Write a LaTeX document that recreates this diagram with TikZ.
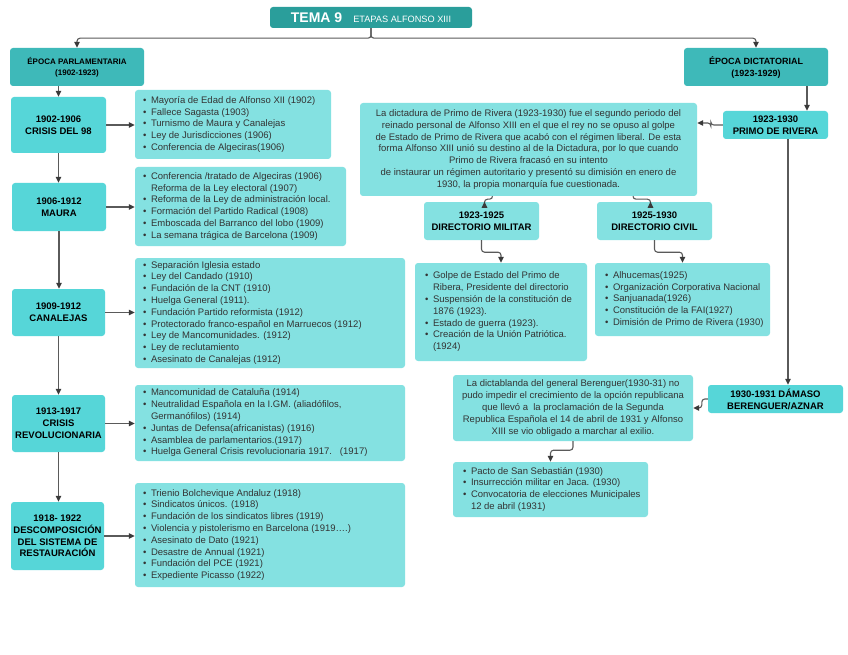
\documentclass[tikz,border=0pt]{standalone}
\usepackage{fontspec}
\setmainfont{Liberation Sans}
\usetikzlibrary{arrows.meta}
\definecolor{ctitle}{HTML}{2A9E9B}
\definecolor{cepoca}{HTML}{3EB9B9}
\definecolor{cper}{HTML}{56D6D8}
\definecolor{clist}{HTML}{84E1E1}
\definecolor{ctext}{HTML}{333333}
\definecolor{cline}{HTML}{5A5A5A}
\definecolor{ctip}{HTML}{3A3A3A}
\newcommand\bul{\makebox[8pt][l]{\textbullet}}
\newcommand\cnt{\hspace*{8pt}}
\newcommand\lst[2]{\makebox[#1][l]{\begin{tabular}{@{}l@{}}#2\end{tabular}}}
\tikzset{
  base/.style={rounded corners=3pt, inner sep=0pt, align=center},
  titlebox/.style={base, fill=ctitle, text=white},
  epbox/.style={base, fill=cepoca, text=black},
  prbox/.style={base, fill=cper, text=black, font=\bfseries\fontsize{9.5}{11.8}\selectfont},
  listbox/.style={base, fill=clist, text=ctext, font=\fontsize{9.5}{11.8}\selectfont},
  arr/.style={draw=cline, line width=1.1pt, rounded corners=3pt, -{Triangle[length=6pt,width=5.5pt,color=ctip]}},
}
\begin{document}
\begin{tikzpicture}[x=1pt,y=-1pt]
\useasboundingbox[fill=white] (0,0) rectangle (848,655);

% title
\node[titlebox, minimum width=202pt, minimum height=21pt] (title) at (371,17.5)
  {{\bfseries\fontsize{14}{16}\selectfont TEMA 9}\hspace{11pt}{\fontsize{9.2}{10}\selectfont ETAPAS ALFONSO XIII}};

% epochs
\node[epbox, minimum width=134pt, minimum height=38pt, font=\bfseries\fontsize{8}{11}\selectfont] (ep) at (77,67)
  {ÉPOCA PARLAMENTARIA\\(1902-1923)};
\node[epbox, minimum width=144pt, minimum height=38pt, font=\bfseries\fontsize{9}{12}\selectfont] (ed) at (756,67)
  {ÉPOCA DICTATORIAL\\(1923-1929)};

% left periods
\node[prbox, minimum width=95pt, minimum height=56pt] (pr1) at (58.5,125) {1902-1906\\CRISIS DEL 98};
\node[prbox, minimum width=94pt, minimum height=48pt] (pr2) at (59,207) {1906-1912\\MAURA};
\node[prbox, minimum width=93pt, minimum height=47pt] (pr3) at (58.5,312.5) {1909-1912\\CANALEJAS};
\node[prbox, minimum width=93pt, minimum height=57pt] (pr4) at (58.5,423.5) {1913-1917\\CRISIS\\REVOLUCIONARIA};
\node[prbox, minimum width=93pt, minimum height=68pt] (pr5) at (57.5,536) {1918- 1922\\DESCOMPOSICIÓN\\DEL SISTEMA DE\\RESTAURACIÓN};

% left lists
\node[listbox, minimum width=196pt, minimum height=69pt] (c1) at (233,124.5) {\lst{180pt}{%
\bul Mayoría de Edad de Alfonso XII (1902)\\
\bul Fallece Sagasta (1903)\\
\bul Turnismo de Maura y Canalejas\\
\bul Ley de Jurisdicciones (1906)\\
\bul Conferencia de Algeciras(1906)}};
\node[listbox, minimum width=211pt, minimum height=79pt] (c2) at (240.5,206.5) {\lst{195pt}{%
\bul Conferencia /tratado de Algeciras (1906)\\
\cnt Reforma de la Ley electoral (1907)\\
\bul Reforma de la Ley de administración local.\\
\bul Formación del Partido Radical (1908)\\
\bul Emboscada del Barranco del lobo (1909)\\
\bul La semana trágica de Barcelona (1909)}};
\node[listbox, minimum width=270pt, minimum height=110pt] (c3) at (270,313) {\lst{254pt}{%
\bul Separación Iglesia estado\\
\bul Ley del Candado (1910)\\
\bul Fundación de la CNT (1910)\\
\bul Huelga General (1911).\\
\bul Fundación Partido reformista (1912)\\
\bul Protectorado franco-español en Marruecos (1912)\\
\bul Ley de Mancomunidades. (1912)\\
\bul Ley de reclutamiento\\
\bul Asesinato de Canalejas (1912)}};
\node[listbox, minimum width=270pt, minimum height=76pt] (c4) at (270,423) {\lst{254pt}{%
\bul Mancomunidad de Cataluña (1914)\\
\bul Neutralidad Española en la I.GM. (aliadófilos,\\
\cnt Germanófilos) (1914)\\
\bul Juntas de Defensa(africanistas) (1916)\\
\bul Asamblea de parlamentarios.(1917)\\
\bul Huelga General Crisis revolucionaria 1917.\ \ \ (1917)}};
\node[listbox, minimum width=270pt, minimum height=104pt] (c5) at (270,535) {\lst{254pt}{%
\bul Trienio Bolchevique Andaluz (1918)\\
\bul Sindicatos únicos. (1918)\\
\bul Fundación de los sindicatos libres (1919)\\
\bul Violencia y pistolerismo en Barcelona (1919….)\\
\bul Asesinato de Dato (1921)\\
\bul Desastre de Annual (1921)\\
\bul Fundación del PCE (1921)\\
\bul Expediente Picasso (1922)}};

% right side
\node[prbox, minimum width=105pt, minimum height=28pt] (primo) at (775.5,125) {1923-1930\\PRIMO DE RIVERA};
\node[listbox, minimum width=337pt, minimum height=93pt] (par) at (528.5,149.5) {%
La dictadura de Primo de Rivera (1923-1930) fue el segundo periodo del\\
reinado personal de Alfonso XIII en el que el rey no se opuso al golpe\\
de Estado de Primo de Rivera que acabó con el régimen liberal. De esta\\
forma Alfonso XIII unió su destino al de la Dictadura, por lo que cuando\\
Primo de Rivera fracasó en su intento\\
de instaurar un régimen autoritario y presentó su dimisión en enero de\\
1930, la propia monarquía fue cuestionada.};
\node[listbox, font=\bfseries\fontsize{9.5}{11.8}\selectfont, text=black, minimum width=115pt, minimum height=38pt] (dm) at (481.5,221) {1923-1925\\DIRECTORIO MILITAR};
\node[listbox, font=\bfseries\fontsize{9.5}{11.8}\selectfont, text=black, minimum width=115pt, minimum height=38pt] (dc) at (654.5,221) {1925-1930\\DIRECTORIO CIVIL};
\node[listbox, minimum width=172pt, minimum height=98pt] (dml) at (501,312) {\lst{152pt}{%
\bul Golpe de Estado del Primo de\\
\cnt Ribera, Presidente del directorio\\
\bul Suspensión de la constitución de\\
\cnt 1876 (1923).\\
\bul Estado de guerra (1923).\\
\bul Creación de la Unión Patriótica.\\
\cnt (1924)}};
\node[listbox, minimum width=175pt, minimum height=73pt] (dcl) at (682.5,299.5) {\lst{155pt}{%
\bul Alhucemas(1925)\\
\bul Organización Corporativa Nacional\\
\bul Sanjuanada(1926)\\
\bul Constitución de la FAI(1927)\\
\bul Dimisión de Primo de Rivera (1930)}};
\node[prbox, minimum width=135pt, minimum height=28pt] (dam) at (775.5,399) {1930-1931 DÁMASO\\BERENGUER/AZNAR};
\node[listbox, minimum width=240pt, minimum height=66pt] (dict) at (573,408) {%
La dictablanda del general Berenguer(1930-31) no\\
pudo impedir el crecimiento de la opción republicana\\
que llevó a\ \ la proclamación de la Segunda\\
Republica Española el 14 de abril de 1931 y Alfonso\\
XIII se vio obligado a marchar al exilio.};
\node[listbox, minimum width=195pt, minimum height=55pt] (pacto) at (550.5,489.5) {\lst{175pt}{%
\bul Pacto de San Sebastián (1930)\\
\bul Insurrección militar en Jaca. (1930)\\
\bul Convocatoria de elecciones Municipales\\
\cnt 12 de abril (1931)}};

% connectors
\draw[arr] (title.south) -- ++(0,10) -| (ep.north);
\draw[arr] (title.south) -- ++(0,10) -| (ed.north);
\draw[arr] (ep.south -| pr1.north) -- (pr1.north);
\draw[arr] (pr1.south) -- (pr1.south |- pr2.north);
\draw[arr] (pr2.south) -- (pr2.south |- pr3.north);
\draw[arr] (pr3.south) -- (pr3.south |- pr4.north);
\draw[arr] (pr4.south) -- (pr4.south |- pr5.north);
\draw[arr] (pr1.east) -- (c1.west |- pr1.east);
\draw[arr] (pr2.east) -- (c2.west |- pr2.east);
\draw[arr] (pr3.east) -- (c3.west |- pr3.east);
\draw[arr] (pr4.east) -- (c4.west |- pr4.east);
\draw[arr] (pr5.east) -- (c5.west |- pr5.east);

\draw[arr] ([xshift=51pt]ed.south) -- ([xshift=31.5pt]primo.north);
\draw[arr] (primo.west) -- ++(-12,0) |- ([yshift=26.5pt]par.east);
\draw[arr] ([xshift=12.5pt]primo.south) -- ([xshift=12.5pt]dam.north);
\draw[arr] ([xshift=-36pt]par.south) -- ++(0,3) -| ([xshift=3pt]dm.north);
\draw[arr] ([xshift=104.5pt]par.south) -- ++(0,3) -| ([xshift=-4pt]dc.north);
\draw[arr] (dm.south) -- ++(0,12) -| (dml.north);
\draw[arr] (dc.south) -- ++(0,12) -| (dcl.north);
\draw[arr] (dam.west) -- ++(-6,0) |- (dict.east);
\draw[arr] (dict.south) -- ++(0,9) -| (pacto.north);
\end{tikzpicture}
\end{document}
